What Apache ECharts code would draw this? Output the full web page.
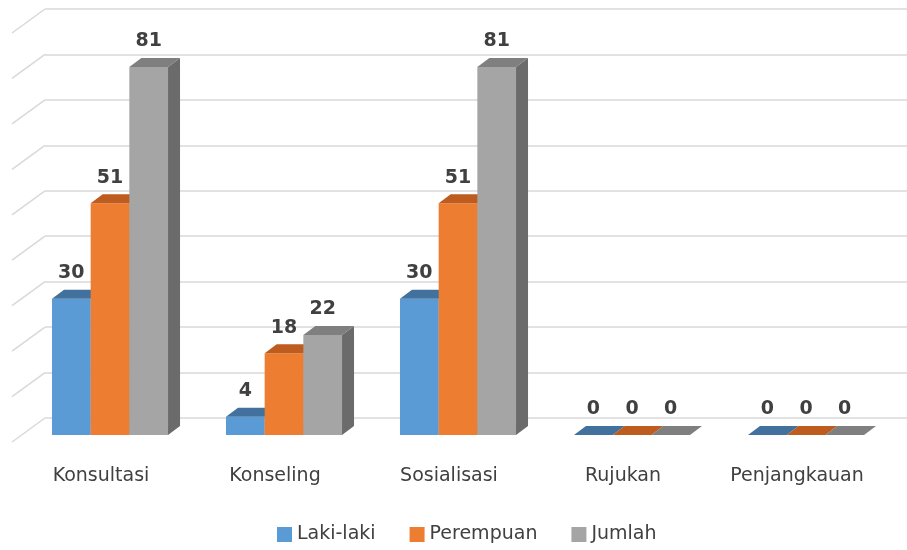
<!DOCTYPE html>
<html>
<head>
<meta charset="utf-8">
<script src="https://cdn.jsdelivr.net/npm/echarts@6/dist/echarts.min.js"></script>
<style>
  html, body { margin: 0; padding: 0; background: #fff; }
  #chart { width: 907px; height: 550px; }
</style>
</head>
<body>
<div id="chart"></div>
<script>
// data
const categories = ["Konsultasi", "Konseling", "Sosialisasi", "Rujukan", "Penjangkauan"];
const seriesNames = ["Laki-laki", "Perempuan", "Jumlah"];
const lakiLaki = [30, 4, 30, 0, 0];
const perempuan = [51, 18, 51, 0, 0];
const jumlah = [81, 22, 81, 0, 0];
const yTicks = [0, 10, 20, 30, 40, 50, 60, 70, 80, 90];

// front / top / side colours for each series
const palette = [
  { front: "#5B9BD5", top: "#41719C", side: "#3E6D99" },
  { front: "#ED7D31", top: "#BE5B1E", side: "#B4581C" },
  { front: "#A5A5A5", top: "#7F7F7F", side: "#6B6B6B" }
];
const depthX = 12, depthY = -9;
const fontFam = "'DejaVu Sans', sans-serif";

function barRender(i) {
  return function (params, api) {
    const idx = api.value(0);
    const v = api.value(1);
    const base = api.coord([idx, 0]);
    const top = api.coord([idx, v]);
    const band = api.size([1, 0])[0];
    const groupW = band * 0.667;
    const w = groupW / 3;
    const x0 = base[0] - groupW / 2 + i * w;
    const x1 = x0 + w;
    const c = palette[i];
    const children = [];
    if (v > 0) {
      children.push({
        type: "polygon",
        shape: { points: [[x1, top[1]], [x1 + depthX, top[1] + depthY], [x1 + depthX, base[1] + depthY], [x1, base[1]]] },
        style: { fill: c.side }
      });
      children.push({
        type: "rect",
        shape: { x: x0, y: top[1], width: w, height: base[1] - top[1] },
        style: { fill: c.front }
      });
    }
    children.push({
      type: "polygon",
      shape: { points: [[x0, top[1]], [x1, top[1]], [x1 + depthX, top[1] + depthY], [x0 + depthX, top[1] + depthY]] },
      style: { fill: c.top }
    });
    children.push({
      type: "text",
      style: {
        text: String(v),
        x: (x0 + x1) / 2,
        y: top[1] + depthY - 7,
        align: "center",
        verticalAlign: "bottom",
        fill: "#404040",
        font: "bold 19px " + fontFam
      }
    });
    return { type: "group", children: children };
  };
}

function toData(arr) {
  return arr.map(function (v, k) { return [k, v]; });
}

const chart = echarts.init(document.getElementById("chart"));
const valueSets = [lakiLaki, perempuan, jumlah];

chart.setOption({
  animation: false,
  backgroundColor: "#fff",
  textStyle: { fontFamily: fontFam },
  legend: {
    data: seriesNames,
    bottom: 1,
    left: 272,
    icon: "rect",
    itemWidth: 15,
    itemHeight: 15,
    itemGap: 34,
    textStyle: { fontSize: 19, color: "#404040", fontFamily: fontFam }
  },
  grid: [
    { left: 23, right: 14, top: 26, bottom: 115 },
    { left: 45, right: 0, top: 9, bottom: 132 }
  ],
  xAxis: [
    {
      type: "category",
      gridIndex: 0,
      data: categories,
      axisLine: { show: false },
      axisTick: { show: false },
      axisLabel: { margin: 32, fontSize: 19, color: "#404040", fontFamily: fontFam, padding: [0, 18, 0, 0] }
    },
    { type: "value", gridIndex: 1, min: 0, max: 1, show: false }
  ],
  yAxis: [
    { type: "value", gridIndex: 0, min: 0, max: 90, interval: 10, show: false },
    {
      type: "value",
      gridIndex: 1,
      min: 0,
      max: 90,
      interval: 10,
      axisLabel: { show: false },
      axisLine: { show: false },
      axisTick: { show: false },
      splitLine: { lineStyle: { color: "#D9D9D9", width: 1.5 } }
    }
  ],
  series: [
    {
      type: "custom",
      xAxisIndex: 1,
      yAxisIndex: 1,
      silent: true,
      z: 1,
      data: yTicks.map(function (t) { return [0, t]; }),
      renderItem: function (params, api) {
        const p = api.coord([0, api.value(1)]);
        return {
          type: "line",
          shape: { x1: p[0], y1: p[1], x2: p[0] - 33, y2: p[1] + 24 },
          style: { stroke: "#D9D9D9", lineWidth: 1.5 }
        };
      }
    }
  ].concat(valueSets.map(function (arr, i) {
    return {
      name: seriesNames[i],
      type: "custom",
      xAxisIndex: 0,
      yAxisIndex: 0,
      z: 5,
      itemStyle: { color: palette[i].front },
      data: toData(arr),
      renderItem: barRender(i)
    };
  }))
});
</script>
</body>
</html>
